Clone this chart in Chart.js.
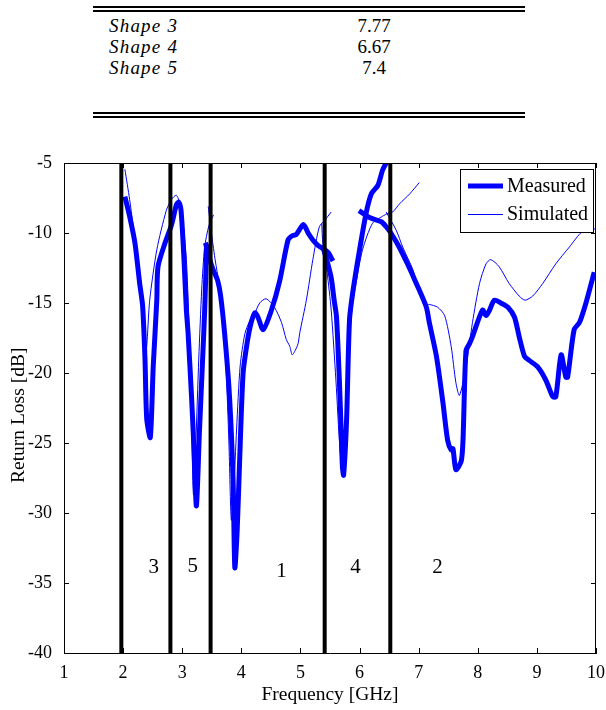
<!DOCTYPE html>
<html>
<head>
<meta charset="utf-8">
<script src="https://cdn.jsdelivr.net/npm/chart.js@4.4.1/dist/chart.umd.min.js"></script>
<style>
  body { margin: 0; width: 606px; height: 710px; background: #fff; position: relative; overflow: hidden;
         font-family: "Liberation Serif", "Times New Roman", serif; color: #000; }
  .rule { position: absolute; left: 93px; width: 432px; background: #000; }
  .shape { position: absolute; left: 109px; font-style: italic; font-size: 19px; line-height: 19px; letter-spacing: 1.2px; white-space: nowrap; }
  .val { position: absolute; left: 334px; width: 80px; text-align: center; font-size: 19px; line-height: 19px; }
  #wrap { position: absolute; left: 0; top: 130px; width: 606px; height: 580px; }
</style>
</head>
<body>
<div class="rule" style="top:6px;height:2px"></div>
<div class="rule" style="top:10px;height:2px"></div>
<div id="rows"></div>
<div class="rule" style="top:112px;height:2px"></div>
<div class="rule" style="top:116px;height:2px"></div>
<div id="wrap"><canvas id="rl" width="606" height="580"></canvas></div>
<script>
// table above the plot
const shapeNames = ['Shape 3', 'Shape 4', 'Shape 5'];
const shapeValues = ['7.77', '6.67', '7.4'];

// axes
const xTicks = [1, 2, 3, 4, 5, 6, 7, 8, 9, 10];
const yTicks = [-40, -35, -30, -25, -20, -15, -10, -5];

// band edges (GHz) and the band numbers written inside them
const bandEdges = [1.97, 2.80, 3.48, 5.41, 6.52];
const bandNames = ['3', '5', '1', '4', '2'];
const bandNameFreq = [2.52, 3.18, 4.68, 5.93, 7.32];
const bandNameLoss = [-33.9, -33.8, -34.2, -33.9, -33.9];

// measured return loss, one piece per shape [GHz, dB]
const measured35 = [[2.03,-7.4],[2.11,-8.8],[2.20,-10.7],[2.28,-13.6],[2.33,-15.2],[2.37,-19.0],[2.40,-23.3],
  [2.46,-24.6],[2.51,-19.5],[2.57,-14.8],[2.59,-12.4],[2.71,-10.7],[2.82,-9.4],[2.90,-8.0],[2.94,-7.8],
  [2.98,-8.4],[3.03,-11.9],[3.07,-15.5],[3.10,-17.2],[3.16,-21.9],[3.20,-25.5],[3.24,-29.5],[3.29,-24.3],
  [3.34,-19.5],[3.38,-15.5],[3.41,-10.9],[3.39,-10.7]];
const measured1 = [[3.40,-10.8],[3.46,-11.8],[3.52,-12.6],[3.60,-13.4],[3.65,-14.5],[3.72,-17.3],[3.80,-21.7],
  [3.86,-27.6],[3.89,-33.9],[3.93,-31.2],[3.97,-26.4],[4.03,-20.0],[4.10,-17.8],[4.16,-16.5],[4.23,-15.7],
  [4.28,-16.0],[4.37,-16.9],[4.51,-15.5],[4.65,-13.4],[4.79,-10.5],[4.86,-10.2],[4.93,-10.1],[5.05,-9.4],
  [5.13,-10.0],[5.21,-10.5],[5.30,-10.9],[5.38,-11.1],[5.47,-11.4],[5.55,-12.0]];
const measured4 = [[5.38,-11.0],[5.45,-12.0],[5.52,-13.2],[5.57,-14.8],[5.61,-16.0],[5.66,-20.7],[5.69,-24.3],
  [5.71,-26.7],[5.73,-27.3],[5.78,-23.4],[5.83,-16.2],[5.89,-14.1],[6.00,-11.2],[6.11,-8.6],[6.20,-7.2],
  [6.31,-6.6],[6.39,-5.5],[6.45,-5.0],[6.50,-4.6]];
const measured2 = [[5.99,-8.4],[6.17,-8.9],[6.37,-9.2],[6.45,-9.55],[6.53,-10.0],[6.67,-11.0],[6.81,-12.2],
  [6.96,-13.6],[7.13,-15.3],[7.18,-16.4],[7.30,-18.8],[7.41,-22.1],[7.49,-24.8],[7.55,-25.5],[7.58,-25.4],
  [7.63,-26.9],[7.72,-26.3],[7.75,-24.8],[7.80,-18.4],[7.86,-17.9],[7.91,-17.4],[8.08,-15.5],[8.14,-15.9],
  [8.20,-15.5],[8.28,-14.8],[8.39,-15.0],[8.51,-15.3],[8.62,-16.0],[8.70,-17.4],[8.79,-18.8],[8.87,-19.1],
  [9.01,-19.55],[9.15,-20.5],[9.27,-21.7],[9.32,-21.7],[9.41,-18.7],[9.49,-20.3],[9.52,-20.3],[9.63,-16.9],
  [9.72,-16.4],[9.83,-15.0],[9.97,-12.8]];

// simulated return loss [GHz, dB]
const simulated35 = [[2.03,-5.45],[2.11,-7.6],[2.23,-11.45],[2.34,-16.0],[2.39,-18.4],[2.45,-14.8],[2.57,-11.2],
  [2.73,-8.4],[2.82,-7.6],[2.90,-7.3],[2.96,-7.9],[3.02,-9.55],[3.07,-11.9],[3.11,-16.0],[3.15,-22.0],
  [3.19,-28.7],[3.23,-25.0],[3.28,-19.0],[3.33,-14.0],[3.38,-11.0],[3.45,-9.5],[3.53,-8.7]];
const simulated1 = [[3.44,-8.1],[3.50,-10.2],[3.56,-12.0],[3.62,-13.5],[3.68,-15.5],[3.74,-19.5],[3.79,-25.0],
  [3.83,-30.5],[3.87,-28.5],[3.92,-24.0],[3.98,-19.5],[4.06,-17.2],[4.14,-16.3],[4.20,-16.0],[4.31,-15.0],
  [4.42,-14.7],[4.56,-15.3],[4.68,-16.4],[4.76,-17.6],[4.82,-18.1],[4.86,-18.7],[4.91,-18.4],[4.96,-17.9],
  [4.99,-17.1],[5.10,-14.8],[5.21,-11.9],[5.32,-9.55],[5.41,-9.1],[5.52,-8.5]];
const simulated4 = [[5.36,-9.3],[5.38,-10.8],[5.45,-12.8],[5.52,-15.5],[5.60,-20.5],[5.67,-25.5],[5.73,-27.4],
  [5.77,-24.0],[5.82,-18.5],[5.87,-15.5],[5.94,-13.6],[6.05,-11.2],[6.22,-9.3],[6.39,-8.8],[6.48,-8.6],
  [6.56,-8.5],[6.68,-7.9],[6.85,-7.2],[7.01,-6.4]];
const simulated2 = [[6.45,-8.5],[6.62,-9.8],[6.73,-11.0],[6.90,-12.6],[7.01,-14.1],[7.13,-15.1],[7.18,-15.1],
  [7.32,-15.3],[7.44,-15.9],[7.55,-18.1],[7.63,-20.7],[7.69,-21.6],[7.80,-19.6],[7.91,-16.4],[8.03,-13.6],
  [8.14,-12.2],[8.22,-11.9],[8.36,-12.4],[8.53,-13.6],[8.70,-14.5],[8.80,-14.8],[8.93,-14.5],[9.10,-13.6],
  [9.32,-12.2],[9.55,-11.0],[9.77,-9.9],[10.0,-9.7]];

const SERIF = '"Liberation Serif", "Times New Roman", serif';
const BLUE = '#0000ff';

const rows = document.getElementById('rows');
shapeNames.forEach((name, i) => {
  const top = 16 + i * 21;
  rows.insertAdjacentHTML('beforeend',
    `<div class="shape" style="top:${top}px">${name}</div><div class="val" style="top:${top}px">${shapeValues[i]}</div>`);
});

const toPoints = seg => seg.map(([x, y]) => ({ x, y }));
const datasets = [];

bandEdges.forEach(f => {
  datasets.push({
    label: 'edge',
    data: [{ x: f, y: yTicks[0] }, { x: f, y: yTicks[yTicks.length - 1] }],
    borderColor: '#000',
    borderWidth: 4,
    tension: 0,
    order: 0,
  });
});
[measured35, measured1, measured4, measured2].forEach(seg => {
  datasets.push({ label: 'Measured', data: toPoints(seg), borderColor: BLUE, borderWidth: 5, tension: 0.25, order: 2 });
});
[simulated35, simulated1, simulated4, simulated2].forEach(seg => {
  datasets.push({ label: 'Simulated', data: toPoints(seg), borderColor: BLUE, borderWidth: 1, tension: 0.25, order: 1 });
});
datasets.forEach(d => {
  d.showLine = true;
  d.pointRadius = 0;
  d.borderJoinStyle = 'round';
  d.fill = false;
});

// box, inward ticks, band numbers and the framed legend
const decorations = {
  id: 'decorations',
  afterDraw(chart) {
    const { ctx, chartArea: a, scales } = chart;
    const xs = scales.x, ys = scales.y;
    ctx.save();
    ctx.strokeStyle = '#000';
    ctx.lineWidth = 1;
    ctx.beginPath();
    ctx.moveTo(a.left, a.top + 0.5); ctx.lineTo(a.right, a.top + 0.5);
    ctx.moveTo(a.right - 0.5, a.top); ctx.lineTo(a.right - 0.5, a.bottom);
    xTicks.forEach(v => {
      const px = Math.round(xs.getPixelForValue(v)) + 0.5;
      ctx.moveTo(px, a.bottom); ctx.lineTo(px, a.bottom - 5);
      ctx.moveTo(px, a.top); ctx.lineTo(px, a.top + 5);
    });
    yTicks.forEach(v => {
      const py = Math.round(ys.getPixelForValue(v)) + 0.5;
      ctx.moveTo(a.left, py); ctx.lineTo(a.left + 5, py);
      ctx.moveTo(a.right, py); ctx.lineTo(a.right - 5, py);
    });
    ctx.stroke();

    ctx.fillStyle = '#000';
    ctx.font = `21px ${SERIF}`;
    ctx.textAlign = 'center';
    ctx.textBaseline = 'middle';
    bandNames.forEach((n, i) => {
      ctx.fillText(n, xs.getPixelForValue(bandNameFreq[i]), ys.getPixelForValue(bandNameLoss[i]));
    });

    // legend
    const lx = 460, ly = 39, lw = 133, lh = 63;
    ctx.fillStyle = '#fff';
    ctx.fillRect(lx, ly, lw, lh);
    ctx.strokeRect(lx + 0.5, ly + 0.5, lw, lh);
    ctx.strokeStyle = BLUE;
    ctx.lineWidth = 5;
    ctx.beginPath(); ctx.moveTo(468, 56); ctx.lineTo(503, 56); ctx.stroke();
    ctx.lineWidth = 1;
    ctx.beginPath(); ctx.moveTo(468, 84.5); ctx.lineTo(503, 84.5); ctx.stroke();
    ctx.fillStyle = '#000';
    ctx.font = `20px ${SERIF}`;
    ctx.textAlign = 'left';
    ctx.fillText('Measured', 507, 57);
    ctx.fillText('Simulated', 507, 85);
    ctx.restore();
  },
};

new Chart(document.getElementById('rl'), {
  type: 'scatter',
  data: { datasets },
  plugins: [decorations],
  options: {
    responsive: false,
    animation: false,
    devicePixelRatio: 1,
    layout: { padding: { top: 33, right: 0, left: 0, bottom: 0 } },
    plugins: { legend: { display: false }, tooltip: { enabled: false } },
    scales: {
      x: {
        type: 'linear',
        min: xTicks[0],
        max: xTicks[xTicks.length - 1],
        afterBuildTicks: s => { s.ticks = xTicks.map(v => ({ value: v })); },
        afterFit: s => { s.height = 57; },
        ticks: { color: '#000', font: { family: SERIF, size: 18 }, padding: 1, maxRotation: 0, autoSkip: false },
        grid: { display: false },
        border: { display: true, color: '#000', width: 1 },
        title: { display: true, text: 'Frequency [GHz]', color: '#000', font: { family: SERIF, size: 19.5 }, padding: { top: 0, bottom: 3 } },
      },
      y: {
        type: 'linear',
        min: yTicks[0],
        max: yTicks[yTicks.length - 1],
        afterBuildTicks: s => { s.ticks = yTicks.map(v => ({ value: v })); },
        afterFit: s => { s.width = 64; },
        ticks: { color: '#000', font: { family: SERIF, size: 18 }, padding: 4 },
        grid: { display: false },
        border: { display: true, color: '#000', width: 1 },
        // trailing spaces nudge the rotated title a little lower
        title: { display: true, text: 'Return Loss [dB]\u00a0\u00a0\u00a0', color: '#000', font: { family: SERIF, size: 19.5 }, padding: { top: 7, bottom: 0 } },
      },
    },
  },
});
</script>
</body>
</html>
